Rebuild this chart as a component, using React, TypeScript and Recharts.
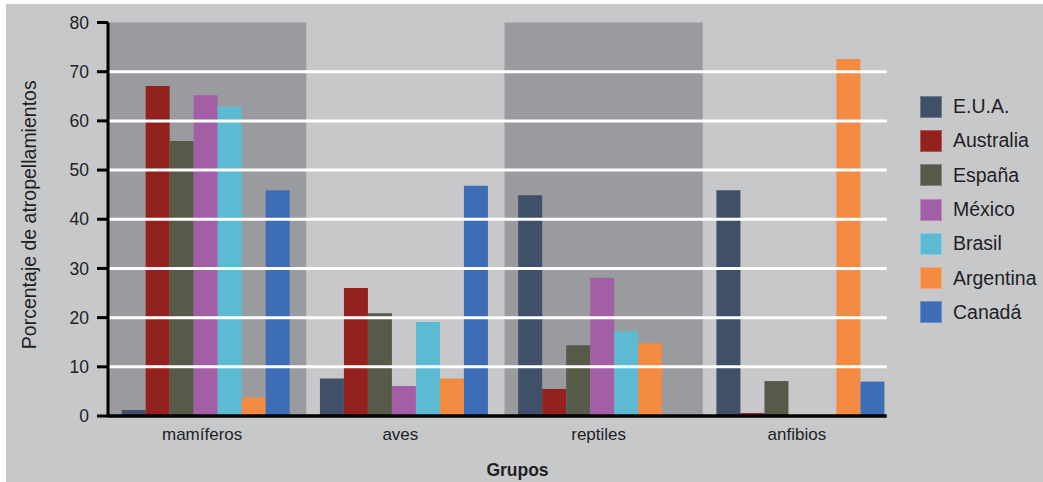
import React from 'react';
import { BarChart, Bar, XAxis, YAxis, ReferenceArea, ReferenceLine, Legend, Label } from 'recharts';

const categories = ['mamíferos', 'aves', 'reptiles', 'anfibios'];
const seriesNames = ['E.U.A.', 'Australia', 'España', 'México', 'Brasil', 'Argentina', 'Canadá'];
const seriesColors = ['#405068', '#93221f', '#565a49', '#a25fa5', '#5cbbd3', '#f38b43', '#3d6eb5'];
const eua = [1.2, 7.6, 44.9, 45.9];
const australia = [67.1, 26.0, 5.5, 0.6];
const espana = [55.9, 20.9, 14.4, 7.1];
const mexico = [65.2, 6.1, 28.1, 0];
const brasil = [62.9, 19.1, 17.2, 0];
const argentina = [3.8, 7.6, 14.8, 72.6];
const canada = [45.9, 46.8, 0, 7.0];
const seriesValues = [eua, australia, espana, mexico, brasil, argentina, canada];
const yTicks = [0, 10, 20, 30, 40, 50, 60, 70, 80];
const shadedGroups = ['mamíferos', 'reptiles'];
const GRID_FRACTION = 0.982;

const FONT = "'Liberation Sans', Arial, sans-serif";
const TEXT = '#1f1f26';

const data = categories.map((c, i) => {
  const row: Record<string, any> = { group: c };
  seriesValues.forEach((vals, j) => {
    row['s' + j] = vals[i];
  });
  return row;
});

const LegendContent = () => (
  <div style={{ fontFamily: FONT }}>
    {seriesNames.map((n, i) => (
      <div key={n} style={{ display: 'flex', alignItems: 'center', height: 34.3 }}>
        <span
          style={{
            display: 'inline-block',
            width: 22,
            height: 22,
            background: seriesColors[i],
            boxSizing: 'border-box',
            border: '1px solid rgba(255,255,255,0.25)',
            marginRight: 11,
          }}
        />
        <span style={{ fontSize: 19.5, color: TEXT, whiteSpace: 'nowrap' }}>{n}</span>
      </div>
    ))}
  </div>
);

const YLabel = (props: any) => {
  const vb = props.viewBox || { x: 0, y: 0, width: 0, height: 0 };
  const x = vb.x + 36;
  const y = vb.y + vb.height / 2 - 4.5;
  return (
    <text
      x={x}
      y={y}
      transform={`rotate(-90 ${x} ${y})`}
      textAnchor="middle"
      fontFamily={FONT}
      fontSize={19.5}
      fill={TEXT}
    >
      Porcentaje de atropellamientos
    </text>
  );
};

const makeLineShape = (stroke: string, strokeWidth: number) => (p: any) => {
  const x1 = Number(p.x1);
  const x2 = Number(p.x2);
  const y1 = Number(p.y1);
  const y2 = Number(p.y2);
  return (
    <line
      x1={x1}
      y1={y1}
      x2={x1 + (x2 - x1) * GRID_FRACTION}
      y2={y2}
      stroke={stroke}
      strokeWidth={strokeWidth}
    />
  );
};

const gridShape = makeLineShape('#ffffff', 3);
const axisShape = makeLineShape('#000000', 3.5);

export default function App() {
  return (
    <div style={{ position: 'absolute', left: 0, top: 0, width: 1043, height: 482, background: '#ffffff' }}>
      <div style={{ position: 'absolute', left: 6, top: 4, right: 0, bottom: 0, background: '#c7c8ca' }} />
      <div style={{ position: 'absolute', left: 0, top: 0 }}>
        <BarChart
          width={1043}
          height={482}
          data={data}
          margin={{ top: 22.5, right: 142, bottom: 0, left: 0 }}
          barCategoryGap="6.9%"
          barGap={0}
        >
          <XAxis
            dataKey="group"
            height={66}
            axisLine={false}
            tickLine={false}
            tickSize={0}
            tickMargin={12}
            interval={0}
            tick={{ fill: TEXT, fontSize: 17, fontFamily: FONT, dx: -5 }}
          >
            <Label
              value="Grupos"
              position="insideBottom"
              offset={6}
              dx={13}
              style={{ fontFamily: FONT, fontSize: 17.5, fontWeight: 700, fill: TEXT }}
            />
          </XAxis>
          <YAxis
            width={108}
            domain={[0, 80]}
            ticks={yTicks}
            interval={0}
            axisLine={{ stroke: '#000', strokeWidth: 3 }}
            tickLine={{ stroke: '#000', strokeWidth: 3 }}
            tickSize={11}
            tickMargin={8}
            tick={{ fill: TEXT, fontSize: 17.5, fontFamily: FONT }}
            label={<YLabel />}
          />
          {shadedGroups.map((g) => (
            <ReferenceArea
              key={'band' + g}
              x1={g}
              x2={g}
              y1={0}
              y2={80}
              fill="#9a9b9f"
              fillOpacity={1}
              stroke="none"
              ifOverflow="visible"
            />
          ))}
          {yTicks
            .filter((t) => t > 0 && t < 80)
            .map((t) => (
              <ReferenceLine key={'g' + t} y={t} ifOverflow="visible" shape={gridShape} />
            ))}
          {seriesNames.map((n, j) => (
            <Bar key={n} dataKey={'s' + j} name={n} fill={seriesColors[j]} isAnimationActive={false} />
          ))}
          <ReferenceLine y={0} ifOverflow="visible" shape={axisShape} />
          <Legend
            layout="vertical"
            align="center"
            verticalAlign="middle"
            wrapperStyle={{ left: 920, top: 89.5, width: 123, height: 240 }}
            content={() => <LegendContent />}
          />
        </BarChart>
      </div>
    </div>
  );
}
